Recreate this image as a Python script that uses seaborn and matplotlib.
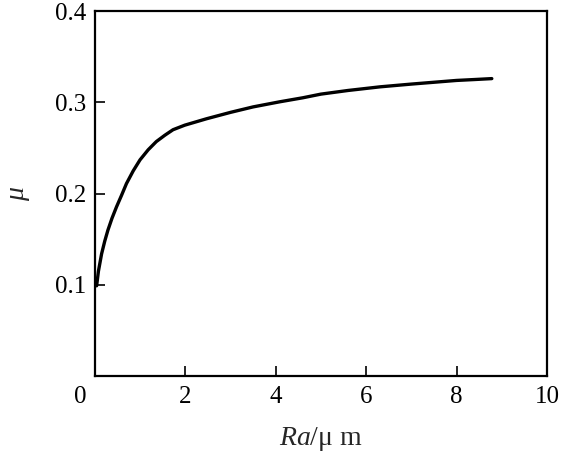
import matplotlib
matplotlib.use("Agg")
import matplotlib.pyplot as plt
import matplotlib.transforms as mtransforms
import seaborn as sns
import pandas as pd

ra = [0.04, 0.08, 0.15, 0.22, 0.29, 0.38, 0.48, 0.59, 0.70, 0.85, 1.0, 1.18, 1.36,
      1.55, 1.73, 1.99, 2.47, 3.0, 3.5, 4.09, 4.6, 5.0, 5.6, 6.31, 7.0, 7.5, 8.0, 8.4, 8.78]
mu = [0.099, 0.115, 0.134, 0.148, 0.160, 0.173, 0.1855, 0.198, 0.211, 0.225, 0.237, 0.248, 0.257,
      0.264, 0.270, 0.275, 0.282, 0.289, 0.295, 0.3006, 0.305, 0.309, 0.313, 0.317, 0.320, 0.322, 0.324, 0.325, 0.326]
xticks = [0, 2, 4, 6, 8, 10]
yticks = [0.1, 0.2, 0.3, 0.4]

sns.set_theme(style="ticks")
plt.rcParams['font.family'] = ['Liberation Serif', 'DejaVu Serif']
plt.rcParams['mathtext.fontset'] = 'custom'
plt.rcParams['mathtext.it'] = 'Liberation Serif:italic'
plt.rcParams['mathtext.rm'] = 'Liberation Serif'

df = pd.DataFrame({"Ra": ra, "mu": mu})

fig, ax = plt.subplots(figsize=(5.61, 4.61), dpi=100)
fig.subplots_adjust(left=0.169, right=0.975, top=0.976, bottom=0.184)

sns.lineplot(data=df, x="Ra", y="mu", ax=ax, color="black", linewidth=2.4, sort=True)

ax.set_xlim(0, 10)
ax.set_ylim(0, 0.4)
ax.set_xticks(xticks)
ax.set_yticks(yticks)
ax.set_xticklabels([str(t) for t in xticks])
ax.set_yticklabels([f"{t:.1f}" for t in yticks])
ax.tick_params(direction="in", length=7, width=1.2, labelsize=18, colors="black",
               top=False, right=False)
ax.tick_params(axis="x", pad=7)
ax.tick_params(axis="y", pad=6)
for s in ax.spines.values():
    s.set_linewidth(1.6)
    s.set_color("black")

# shift the origin "0" label to the left
lbl0 = ax.get_xticklabels()[0]
lbl0.set_transform(lbl0.get_transform() + mtransforms.ScaledTranslation(-15/100, 0, fig.dpi_scale_trans))

ax.set_xlabel(r"$Ra$/μ m", fontsize=20, labelpad=12)
ax.set_ylabel("μ", fontsize=20, fontstyle="italic", labelpad=18)

fig.savefig("out.png", dpi=100)
